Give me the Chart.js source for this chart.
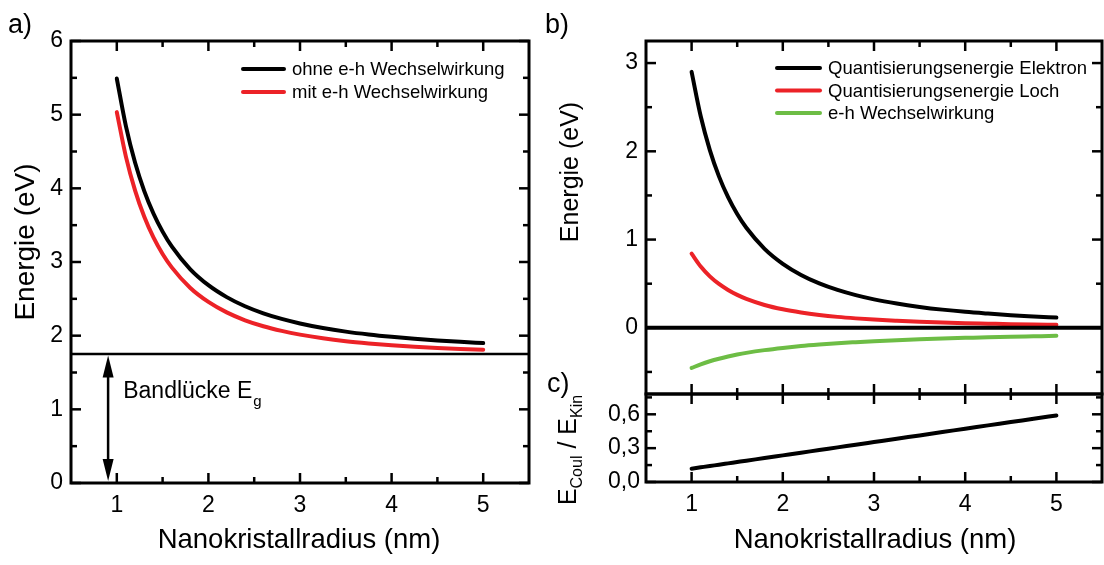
<!DOCTYPE html>
<html>
<head>
<meta charset="utf-8">
<script src="https://cdn.jsdelivr.net/npm/chart.js@4.4.1/dist/chart.umd.min.js"></script>
<style>
  html, body { margin: 0; padding: 0; background: #fff; }
  body { width: 1104px; height: 565px; position: relative; overflow: hidden; }
  canvas { position: absolute; }
</style>
</head>
<body>
<canvas id="panelA" width="540" height="565" style="left:0;top:0"></canvas>
<canvas id="panelB" width="564" height="400" style="left:540px;top:0"></canvas>
<canvas id="panelC" width="564" height="177" style="left:540px;top:388px"></canvas>
<script>
// Nanocrystal radius in nm
const radius = [1.0, 1.1, 1.2, 1.3, 1.4, 1.5, 1.6, 1.8, 2.0, 2.2, 2.4, 2.6, 2.8, 3.0, 3.25, 3.5, 3.75, 4.0, 4.25, 4.5, 4.75, 5.0];

// a) transition energy (eV)
const energyWithout = [5.490, 4.841, 4.347, 3.963, 3.658, 3.412, 3.211, 2.904, 2.685, 2.523, 2.399, 2.303, 2.227, 2.166, 2.104, 2.055, 2.016, 1.984, 1.957, 1.935, 1.916, 1.900];
const energyWith    = [5.035, 4.427, 3.968, 3.613, 3.333, 3.109, 2.927, 2.651, 2.458, 2.316, 2.209, 2.128, 2.065, 2.014, 1.964, 1.925, 1.895, 1.870, 1.850, 1.834, 1.820, 1.809];
const bandGap = 1.75;
const arrowX = 0.905;

// b) energy contributions (eV)
const confElectron  = [2.900, 2.397, 2.014, 1.716, 1.480, 1.289, 1.133, 0.895, 0.725, 0.599, 0.503, 0.429, 0.370, 0.322, 0.275, 0.237, 0.206, 0.181, 0.161, 0.143, 0.129, 0.116];
const confHole      = [0.840, 0.694, 0.583, 0.497, 0.429, 0.373, 0.328, 0.259, 0.210, 0.174, 0.146, 0.124, 0.107, 0.093, 0.080, 0.069, 0.060, 0.053, 0.047, 0.041, 0.037, 0.034];
const ehInteraction = [-0.455, -0.414, -0.379, -0.350, -0.325, -0.303, -0.284, -0.253, -0.228, -0.207, -0.190, -0.175, -0.163, -0.152, -0.140, -0.130, -0.121, -0.114, -0.107, -0.101, -0.096, -0.091];

// c) ratio of Coulomb to kinetic energy
const coulKinRatio  = [0.118, 0.130, 0.142, 0.153, 0.165, 0.177, 0.189, 0.212, 0.236, 0.260, 0.283, 0.307, 0.330, 0.354, 0.384, 0.413, 0.443, 0.472, 0.502, 0.531, 0.561, 0.590];

// axis ranges and ticks
const xRange = [0.5, 5.5];
const xTicks = [1, 2, 3, 4, 5];
const xMinor = [1.5, 2.5, 3.5, 4.5];
const yRangeA = [0, 6];
const yTicksA = [0, 1, 2, 3, 4, 5, 6];
const yMinorA = [0.5, 1.5, 2.5, 3.5, 4.5, 5.5];
const yRangeB = [-0.75, 3.25];
const yTicksB = [0, 1, 2, 3];
const yMinorB = [-0.5, 0.5, 1.5, 2.5];
const yRangeC = [0, 0.78];
const yTicksC = [0, 0.3, 0.6];
const yTickLabelsC = ['0,0', '0,3', '0,6'];
const yMinorC = [0.15, 0.45, 0.75];

const legendA = ['ohne e-h Wechselwirkung', 'mit e-h Wechselwirkung'];
const legendB = ['Quantisierungsenergie Elektron', 'Quantisierungsenergie Loch', 'e-h Wechselwirkung'];
const xTitle = 'Nanokristallradius (nm)';
const yTitle = 'Energie (eV)';

const FONT = "'Liberation Sans', Arial, Helvetica, sans-serif";
const BLACK = '#000000';
const RED = '#ec2227';
const GREEN = '#6dbd45';
const TICK_SIZE = 23;

Chart.defaults.font.family = FONT;
Chart.defaults.color = BLACK;

const pts = (xs, ys) => xs.map((x, i) => ({ x, y: ys[i] }));
const setTicks = vals => s => { s.ticks = vals.map(v => ({ value: v })); };
const fixSize = (size, horizontal) => s => {
  if (horizontal) s.height = size; else s.width = size;
  s.paddingTop = 0; s.paddingBottom = 0; s.paddingLeft = 0; s.paddingRight = 0;
};

function font(size) { return size + 'px ' + FONT; }

function text(ctx, str, x, y, size, align, baseline) {
  ctx.font = font(size);
  ctx.textAlign = align || 'left';
  ctx.textBaseline = baseline || 'alphabetic';
  ctx.fillStyle = BLACK;
  ctx.fillText(str, x, y);
}

// Text made of pieces with their own size and baseline shift
function richText(ctx, parts, x, y, rotate) {
  ctx.save();
  ctx.translate(x, y);
  if (rotate) ctx.rotate(-Math.PI / 2);
  ctx.textBaseline = 'alphabetic';
  ctx.textAlign = 'left';
  ctx.fillStyle = BLACK;
  let total = 0;
  parts.forEach(p => { ctx.font = font(p.size); total += ctx.measureText(p.t).width; });
  let cx = -total / 2;
  parts.forEach(p => {
    ctx.font = font(p.size);
    ctx.fillText(p.t, cx, p.dy || 0);
    cx += ctx.measureText(p.t).width;
  });
  ctx.restore();
}

function rotatedText(ctx, str, x, y, size) {
  ctx.save();
  ctx.translate(x, y);
  ctx.rotate(-Math.PI / 2);
  text(ctx, str, 0, 0, size, 'center', 'middle');
  ctx.restore();
}

// Frame around the plot area with inward ticks on all four sides
function drawFrame(chart, t) {
  const { ctx, chartArea: a, scales: { x, y } } = chart;
  ctx.save();
  ctx.strokeStyle = BLACK;
  ctx.lineCap = 'butt';
  ctx.lineWidth = 2.5;
  const vTick = (vals, len) => vals.forEach(v => {
    const px = x.getPixelForValue(v);
    ctx.beginPath(); ctx.moveTo(px, a.bottom); ctx.lineTo(px, a.bottom - len); ctx.stroke();
    ctx.beginPath(); ctx.moveTo(px, a.top); ctx.lineTo(px, a.top + len); ctx.stroke();
  });
  const hTick = (vals, len) => vals.forEach(v => {
    const py = y.getPixelForValue(v);
    ctx.beginPath(); ctx.moveTo(a.left, py); ctx.lineTo(a.left + len, py); ctx.stroke();
    ctx.beginPath(); ctx.moveTo(a.right, py); ctx.lineTo(a.right - len, py); ctx.stroke();
  });
  vTick(t.xMajor, 10); vTick(t.xMinor, 6);
  hTick(t.yMajor, 10); hTick(t.yMinor, 6);
  ctx.lineWidth = 3;
  ctx.strokeRect(a.left, a.top, a.right - a.left, a.bottom - a.top);
  ctx.restore();
}

function legend(ctx, items, x0, x1, y0, dy, size) {
  ctx.save();
  ctx.lineCap = 'round';
  items.forEach((it, i) => {
    const yy = y0 + i * dy;
    ctx.strokeStyle = it.color;
    ctx.lineWidth = 4;
    ctx.beginPath(); ctx.moveTo(x0, yy); ctx.lineTo(x1, yy); ctx.stroke();
    text(ctx, it.label, x1 + 8, yy + 1, size, 'left', 'middle');
  });
  ctx.restore();
}

const baseOptions = (padding) => ({
  responsive: false,
  animation: false,
  events: [],
  layout: { autoPadding: false, padding },
  elements: {
    point: { radius: 0 },
    line: { cubicInterpolationMode: 'monotone', borderCapStyle: 'round', borderJoinStyle: 'round', fill: false }
  },
  plugins: { legend: { display: false }, tooltip: { enabled: false } }
});

const hiddenGrid = { display: false, drawTicks: false };

// ---------- a) ----------
const optsA = baseOptions({ left: 0, top: 41, right: 11, bottom: 42 });
optsA.scales = {
  x: {
    type: 'linear', min: xRange[0], max: xRange[1],
    afterBuildTicks: setTicks(xTicks), afterFit: fixSize(40, true),
    grid: hiddenGrid, border: { display: false },
    ticks: { font: { size: TICK_SIZE }, padding: 9, callback: v => String(v) }
  },
  y: {
    type: 'linear', min: yRangeA[0], max: yRangeA[1],
    afterBuildTicks: setTicks(yTicksA), afterFit: fixSize(71, false),
    grid: hiddenGrid, border: { display: false },
    ticks: { font: { size: TICK_SIZE }, padding: 8, callback: v => String(v) }
  }
};
new Chart(document.getElementById('panelA'), {
  type: 'line',
  data: {
    datasets: [
      { label: legendA[0], data: pts(radius, energyWithout), borderColor: BLACK, borderWidth: 4 },
      { label: legendA[1], data: pts(radius, energyWith), borderColor: RED, borderWidth: 4 },
      { label: 'Bandlücke', data: pts(xRange, [bandGap, bandGap]), borderColor: BLACK, borderWidth: 2.5, borderCapStyle: 'butt' }
    ]
  },
  options: optsA,
  plugins: [{
    id: 'decorA',
    afterDatasetsDraw(chart) {
      const { ctx, chartArea: a, scales: { x, y } } = chart;
      drawFrame(chart, { xMajor: xTicks, xMinor, yMajor: yTicksA, yMinor: yMinorA });
      // double arrow spanning the band gap
      const ax = x.getPixelForValue(arrowX);
      const yTop = y.getPixelForValue(bandGap) + 1.5;
      const yBot = y.getPixelForValue(0) - 2;
      ctx.save();
      ctx.strokeStyle = BLACK; ctx.fillStyle = BLACK; ctx.lineWidth = 2.5;
      ctx.beginPath(); ctx.moveTo(ax, yTop + 18); ctx.lineTo(ax, yBot - 18); ctx.stroke();
      ctx.beginPath(); ctx.moveTo(ax, yTop); ctx.lineTo(ax - 5.5, yTop + 22); ctx.lineTo(ax + 5.5, yTop + 22); ctx.closePath(); ctx.fill();
      ctx.beginPath(); ctx.moveTo(ax, yBot); ctx.lineTo(ax - 5.5, yBot - 22); ctx.lineTo(ax + 5.5, yBot - 22); ctx.closePath(); ctx.fill();
      ctx.restore();
      // band gap label
      ctx.save();
      const bx = x.getPixelForValue(1.07), by = y.getPixelForValue(1.15);
      text(ctx, 'Bandlücke E', bx, by, 23);
      const w = ctx.measureText('Bandlücke E').width;
      text(ctx, 'g', bx + w + 1, by + 8, 15);
      ctx.restore();
      legend(ctx, [
        { label: legendA[0], color: BLACK },
        { label: legendA[1], color: RED }
      ], 243, 284, 69, 23, 18.5);
      // titles
      text(ctx, 'a)', 8, 33, 27);
      text(ctx, xTitle, (a.left + a.right) / 2 - 1, 548, 27.5, 'center');
      rotatedText(ctx, yTitle, 26, 242, 28);
    }
  }]
});

// ---------- b) ----------
const optsB = baseOptions({ left: 0, top: 41, right: 2, bottom: 6 });
optsB.scales = {
  x: { type: 'linear', min: xRange[0], max: xRange[1], display: false },
  y: {
    type: 'linear', min: yRangeB[0], max: yRangeB[1],
    afterBuildTicks: setTicks(yTicksB), afterFit: fixSize(106, false),
    grid: hiddenGrid, border: { display: false },
    ticks: { font: { size: TICK_SIZE }, padding: 8, callback: v => String(v) }
  }
};
new Chart(document.getElementById('panelB'), {
  type: 'line',
  data: {
    datasets: [
      { label: 'Null', data: pts(xRange, [0, 0]), borderColor: BLACK, borderWidth: 4, borderCapStyle: 'butt' },
      { label: legendB[0], data: pts(radius, confElectron), borderColor: BLACK, borderWidth: 4 },
      { label: legendB[1], data: pts(radius, confHole), borderColor: RED, borderWidth: 4 },
      { label: legendB[2], data: pts(radius, ehInteraction), borderColor: GREEN, borderWidth: 4 }
    ]
  },
  options: optsB,
  plugins: [{
    id: 'decorB',
    afterDatasetsDraw(chart) {
      const { ctx } = chart;
      drawFrame(chart, { xMajor: xTicks, xMinor, yMajor: yTicksB, yMinor: yMinorB });
      legend(ctx, [
        { label: legendB[0], color: BLACK },
        { label: legendB[1], color: RED },
        { label: legendB[2], color: GREEN }
      ], 237, 280, 68, 22.5, 18.5);
      text(ctx, 'b)', 5, 33, 27);
      text(ctx, 'c)', 7, 392, 27);
      rotatedText(ctx, yTitle, 31, 172, 25);
    }
  }]
});

// ---------- c) ----------
const optsC = baseOptions({ left: 0, top: 6, right: 2, bottom: 43 });
optsC.scales = {
  x: {
    type: 'linear', min: xRange[0], max: xRange[1],
    afterBuildTicks: setTicks(xTicks), afterFit: fixSize(40, true),
    grid: hiddenGrid, border: { display: false },
    ticks: { font: { size: TICK_SIZE }, padding: 9, callback: v => String(v) }
  },
  y: {
    type: 'linear', min: yRangeC[0], max: yRangeC[1],
    afterBuildTicks: setTicks(yTicksC), afterFit: fixSize(106, false),
    grid: hiddenGrid, border: { display: false },
    ticks: { font: { size: TICK_SIZE }, padding: 6, callback: (v, i) => yTickLabelsC[i] }
  }
};
new Chart(document.getElementById('panelC'), {
  type: 'line',
  data: {
    datasets: [
      { label: 'ECoul/EKin', data: pts(radius, coulKinRatio), borderColor: BLACK, borderWidth: 4 }
    ]
  },
  options: optsC,
  plugins: [{
    id: 'decorC',
    afterDatasetsDraw(chart) {
      const { ctx, chartArea: a } = chart;
      drawFrame(chart, { xMajor: xTicks, xMinor, yMajor: yTicksC, yMinor: yMinorC });
      richText(ctx, [
        { t: 'E', size: 25 },
        { t: 'Coul', size: 16, dy: 6 },
        { t: ' / E', size: 25 },
        { t: 'Kin', size: 16, dy: 6 }
      ], 36, 62, true);
      text(ctx, xTitle, (a.left + a.right) / 2 + 1, 160, 27.5, 'center');
    }
  }]
});
</script>
</body>
</html>
